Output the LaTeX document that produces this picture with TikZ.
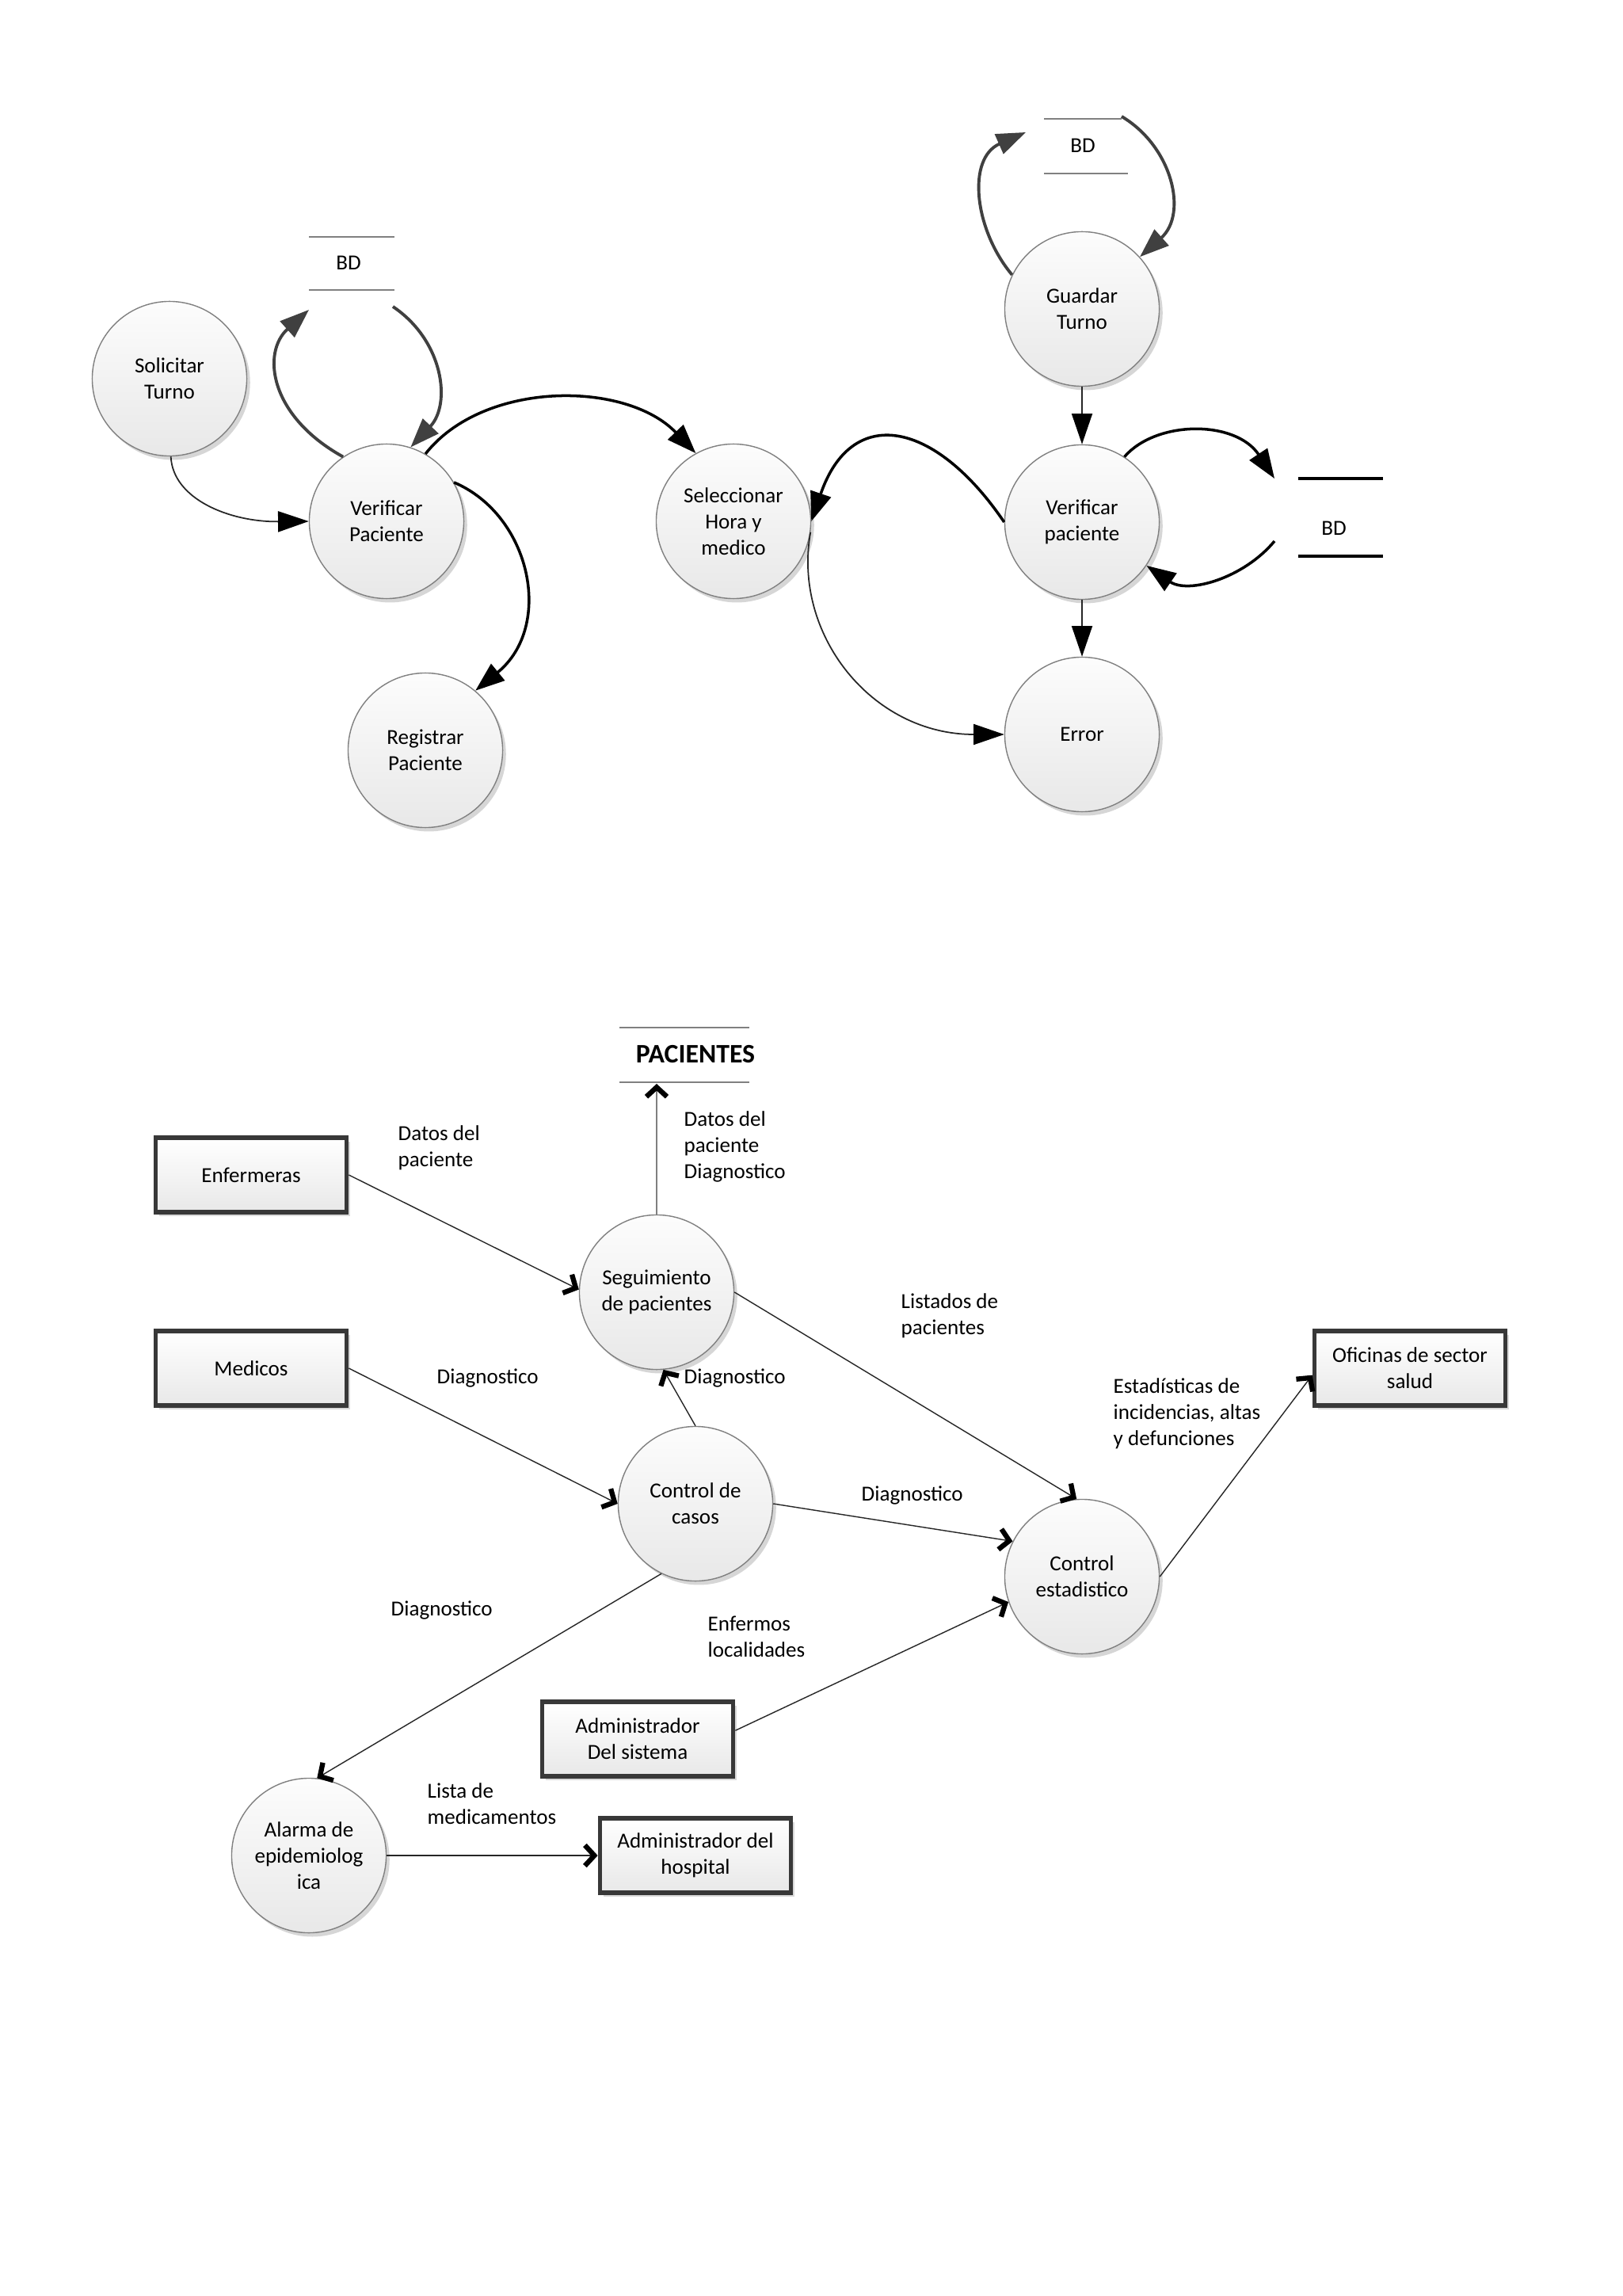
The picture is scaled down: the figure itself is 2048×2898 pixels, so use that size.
\documentclass[tikz,border=0pt]{standalone}
\usepackage{fontspec}
\setmainfont{Carlito}
\usetikzlibrary{arrows.meta,shadows}
\begin{document}
\begin{tikzpicture}[x=0.01cm,y=-0.01cm,
  every node/.style={font=\fontsize{7.7}{9.4}\selectfont, inner sep=0pt},
  proc/.style={circle, draw=black!50, line width=0.4pt, minimum size=1.95cm,
    top color=black!1, bottom color=black!9, align=center,
    drop shadow={shadow xshift=1.2pt, shadow yshift=-1.4pt, opacity=0.16, fill=black}},
  ent/.style={rectangle, draw=black!78, line width=1.6pt, minimum width=2.41cm,
    minimum height=0.94cm, top color=white, bottom color=black!9, align=center,
    drop shadow={shadow xshift=1.2pt, shadow yshift=-1.4pt, opacity=0.15, fill=black}},
  storetext/.style={align=center},
  lbl/.style={anchor=west, align=left},
  storeline/.style={draw=black!50, line width=0.4pt},
  thinarr/.style={draw=black!85, line width=0.5pt, -{Triangle[length=11pt,width=7.4pt,color=black]}},
  darkarr/.style={draw=black!75, line width=1.1pt, -{Triangle[length=10.5pt,width=7.6pt,color=black!75]}},
  blkarr/.style={draw=black, line width=1pt, -{Triangle[length=10.5pt,width=7.6pt]}},
  barb/.style={draw=black!85, line width=0.4pt, -{Straight Barb[length=3.4pt,width=7.4pt,line width=1.8pt,color=black]}},
  barbg/.style={draw=black!50, line width=0.7pt, -{Straight Barb[length=3.4pt,width=7.4pt,line width=1.8pt,color=black]}}
]
\useasboundingbox (0,0) rectangle (2048,2898);
\fill[white] (0,0) rectangle (2048,2898);

% ---------- upper diagram ----------
\node[proc] (sol) at (214,478) {Solicitar\\Turno};
\node[proc] (vp) at (488,658) {Verificar\\Paciente};
\node[proc] (sel) at (926,658) {Seleccionar\\Hora y\\medico};
\node[proc] (reg) at (537,947) {Registrar\\Paciente};
\node[proc] (gua) at (1366,390) {Guardar\\Turno};
\node[proc] (vpr) at (1366,659) {Verificar\\paciente};
\node[proc] (err) at (1366,927) {Error};

\node[storetext] (bdl) at (440,332) {BD};
\draw[storeline] (390,299) -- (498,299) (390,366) -- (498,366);
\node[storetext] (bdt) at (1367,184) {BD};
\draw[storeline] (1318,150) -- (1416,150) (1318,219) -- (1424,219);
\node[storetext] (bdr) at (1684,667) {BD};
\draw[line width=1.35pt] (1639,604) -- (1746,604) (1639,702) -- (1746,702);

\coordinate (bdlin) at (390,391);
\coordinate (bdlout) at (496,387);
\coordinate (bdtin) at (1295,167);
\coordinate (bdtout) at (1416,147);
\coordinate (bdrin) at (1609,604);
\coordinate (bdrout) at (1609,683);

\draw[thinarr] (sol.-89) .. controls (218,630) and (290,659) .. (vp.180);
\draw[darkarr] (vp.124) .. controls (340,525) and (330,445) .. (bdlin);
\draw[darkarr] (bdlout) .. controls (560,430) and (570,510) .. (vp.72);
\draw[blkarr] (vp.60) .. controls (610,480) and (790,480) .. (sel.119);
\draw[blkarr] (vp.30) .. controls (670,650) and (700,790) .. (reg.50);

\draw[darkarr] (gua.154) .. controls (1230,290) and (1220,200) .. (bdtin);
\draw[darkarr] (bdtout) .. controls (1480,185) and (1500,270) .. (gua.42);
\draw[thinarr] (gua.south) -- (vpr.north);
\draw[thinarr] (vpr.south) -- (err.north);
\draw[blkarr] (vpr.180) .. controls (1180,530) and (1075,510) .. (sel.0);
\draw[blkarr] (vpr.57) .. controls (1460,530) and (1560,530) .. (bdrin);
\draw[blkarr] (bdrout) .. controls (1570,730) and (1500,750) .. (vpr.-34);
\draw[thinarr] (sel.-8) .. controls (1000,800) and (1100,927) .. (err.180);

% ---------- lower diagram ----------
\node[storetext] (pac) at (878,1331) {\fontsize{9.6}{11}\selectfont\bfseries PACIENTES};
\draw[storeline] (782,1297) -- (946,1297) (782,1366) -- (946,1366);
\coordinate (pacb) at (829,1368);

\node[ent] (enf) at (317,1483) {Enfermeras};
\node[ent] (med) at (317,1727) {Medicos};
\node[ent] (ofi) at (1780,1727) {Oficinas de sector\\salud};
\node[ent] (asis) at (805,2195) {Administrador\\Del sistema};
\node[ent] (ahos) at (878,2342) {Administrador del\\hospital};

\node[proc] (seg) at (829,1631) {Seguimiento\\de pacientes};
\node[proc] (cc) at (878,1898) {Control de\\casos};
\node[proc] (ce) at (1366,1990) {Control\\estadistico};
\node[proc] (al) at (390,2342) {Alarma de\\epidemiolog\\ica};

\draw[barbg] (seg.north) -- (pacb);
\draw[barb] (enf.east) -- (seg.178);
\draw[barb] (med.east) -- (cc.180);
\draw[barb] (seg.0) -- (ce.94);
\draw[barb] (cc.north) -- (seg.-85);
\draw[barb] (cc.0) -- (ce.153);
\draw[barb] (cc.-116) -- (al.84);
\draw[barb] (asis.5) -- (ce.-161);
\draw[barb] (ce.0) -- (ofi.184);
\draw[barb] (al.0) -- (ahos.180);

\node[lbl] (t1) at (502,1449) {Datos del\\paciente};
\node[lbl] (t2) at (863,1447) {Datos del\\paciente\\Diagnostico};
\node[lbl] (t3) at (1137,1661) {Listados de\\pacientes};
\node[lbl] (t4) at (551,1739) {Diagnostico};
\node[lbl] (t5) at (863,1739) {Diagnostico};
\node[lbl] (t6) at (1405,1784) {Estadísticas de\\incidencias, altas\\y defunciones};
\node[lbl] (t7) at (1087,1887) {Diagnostico};
\node[lbl] (t8) at (493,2032) {Diagnostico};
\node[lbl] (t9) at (893,2066) {Enfermos\\localidades};
\node[lbl] (t10) at (539,2277) {Lista de\\medicamentos};
\end{tikzpicture}
\end{document}
